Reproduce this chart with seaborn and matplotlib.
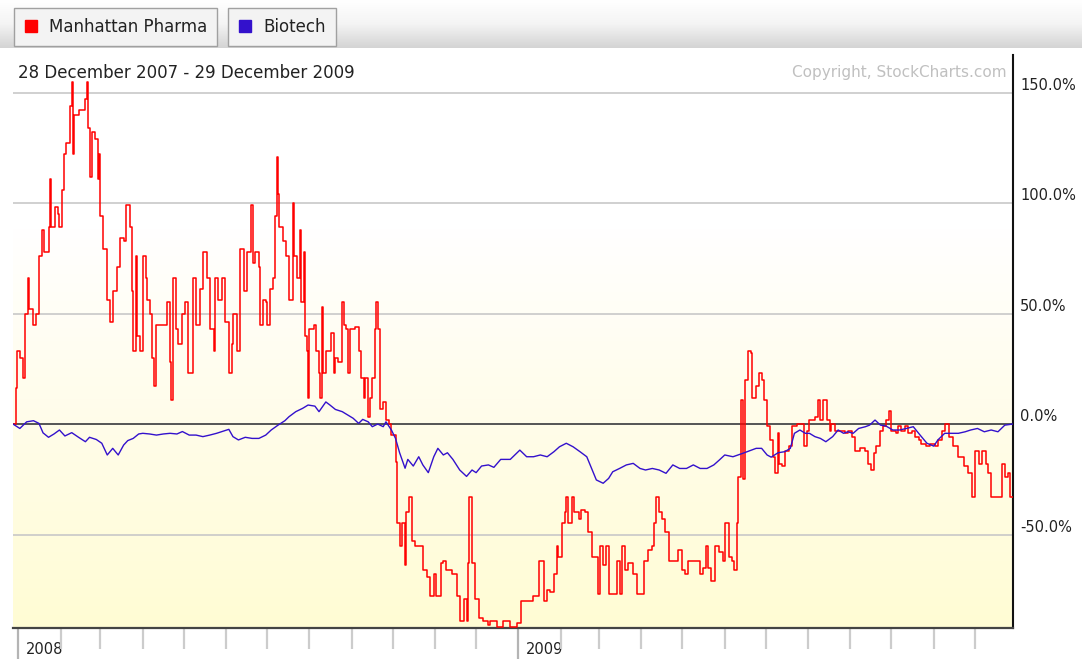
import matplotlib
matplotlib.use("Agg")
import matplotlib.pyplot as plt
import matplotlib.dates as mdates
import matplotlib.transforms as mtransforms
from matplotlib.colors import LinearSegmentedColormap
from matplotlib.lines import Line2D
import numpy as np
import pandas as pd
import seaborn as sns

# % change since 28 Dec 2007
red_points = [
    ('2007-12-28', 0), ('2007-12-30', 16.5), ('2007-12-31', 33),
    ('2008-01-02', 30), ('2008-01-04', 21), ('2008-01-06', 50), ('2008-01-08', 66), ('2008-01-09', 52),
    ('2008-01-12', 45), ('2008-01-14', 50), ('2008-01-16', 76), ('2008-01-18', 88), ('2008-01-20', 78),
    ('2008-01-23', 89), ('2008-01-24', 111), ('2008-01-25', 89), ('2008-01-28', 98), ('2008-01-30', 95),
    ('2008-01-31', 89),
    ('2008-02-02', 106), ('2008-02-03', 122), ('2008-02-05', 127), ('2008-02-08', 144), ('2008-02-09', 155),
    ('2008-02-10', 122), ('2008-02-11', 140), ('2008-02-14', 142), ('2008-02-16', 142), ('2008-02-19', 147),
    ('2008-02-20', 155), ('2008-02-21', 134), ('2008-02-22', 112), ('2008-02-24', 132), ('2008-02-26', 129),
    ('2008-02-28', 111), ('2008-02-29', 122),
    ('2008-03-01', 94), ('2008-03-03', 79), ('2008-03-06', 56), ('2008-03-08', 46), ('2008-03-10', 60),
    ('2008-03-13', 71), ('2008-03-15', 84), ('2008-03-18', 83), ('2008-03-20', 99), ('2008-03-23', 89),
    ('2008-03-24', 60), ('2008-03-25', 33), ('2008-03-27', 76), ('2008-03-28', 40), ('2008-03-30', 33),
    ('2008-04-01', 76), ('2008-04-03', 66), ('2008-04-04', 56), ('2008-04-06', 50), ('2008-04-08', 30),
    ('2008-04-09', 17), ('2008-04-11', 45), ('2008-04-16', 45), ('2008-04-19', 55), ('2008-04-21', 28),
    ('2008-04-22', 11), ('2008-04-23', 66), ('2008-04-25', 43), ('2008-04-27', 36), ('2008-04-30', 50),
    ('2008-05-02', 55), ('2008-05-04', 23), ('2008-05-07', 23), ('2008-05-08', 66), ('2008-05-10', 45),
    ('2008-05-13', 61), ('2008-05-15', 78), ('2008-05-18', 66), ('2008-05-20', 43), ('2008-05-23', 33),
    ('2008-05-24', 66), ('2008-05-26', 56), ('2008-05-29', 66), ('2008-05-31', 46),
    ('2008-06-03', 23), ('2008-06-05', 36), ('2008-06-06', 50), ('2008-06-09', 33), ('2008-06-11', 79),
    ('2008-06-14', 60), ('2008-06-16', 78), ('2008-06-19', 99), ('2008-06-21', 73), ('2008-06-22', 78),
    ('2008-06-25', 71), ('2008-06-26', 45), ('2008-06-28', 56), ('2008-06-30', 55),
    ('2008-07-01', 45), ('2008-07-03', 61), ('2008-07-05', 66), ('2008-07-07', 94), ('2008-07-08', 121),
    ('2008-07-09', 104), ('2008-07-10', 89), ('2008-07-13', 83), ('2008-07-15', 76), ('2008-07-17', 56),
    ('2008-07-19', 56), ('2008-07-20', 100), ('2008-07-21', 76), ('2008-07-23', 66), ('2008-07-25', 88),
    ('2008-07-26', 55), ('2008-07-28', 78), ('2008-07-29', 40), ('2008-07-30', 33), ('2008-07-31', 12),
    ('2008-08-01', 43), ('2008-08-04', 45), ('2008-08-06', 33), ('2008-08-08', 23), ('2008-08-09', 12),
    ('2008-08-10', 53), ('2008-08-11', 23), ('2008-08-13', 33), ('2008-08-16', 33), ('2008-08-17', 41),
    ('2008-08-19', 23), ('2008-08-20', 30), ('2008-08-22', 28), ('2008-08-25', 55), ('2008-08-26', 45),
    ('2008-08-28', 43), ('2008-08-29', 23), ('2008-08-31', 43),
    ('2008-09-03', 44), ('2008-09-06', 33), ('2008-09-08', 21), ('2008-09-10', 12), ('2008-09-11', 21),
    ('2008-09-13', 3), ('2008-09-14', 12), ('2008-09-16', 21), ('2008-09-18', 43), ('2008-09-19', 55),
    ('2008-09-20', 43), ('2008-09-22', 7), ('2008-09-24', 10), ('2008-09-26', 2), ('2008-09-28', 0),
    ('2008-09-30', -5),
    ('2008-10-03', -17), ('2008-10-04', -45), ('2008-10-06', -55), ('2008-10-08', -45), ('2008-10-10', -64),
    ('2008-10-11', -40), ('2008-10-13', -33), ('2008-10-15', -53), ('2008-10-17', -55), ('2008-10-21', -55),
    ('2008-10-23', -66), ('2008-10-26', -69), ('2008-10-28', -78), ('2008-10-31', -68),
    ('2008-11-02', -78), ('2008-11-05', -63), ('2008-11-07', -62), ('2008-11-09', -66), ('2008-11-13', -68),
    ('2008-11-17', -78), ('2008-11-19', -89), ('2008-11-22', -79), ('2008-11-24', -89), ('2008-11-25', -63),
    ('2008-11-26', -33), ('2008-11-28', -63), ('2008-11-30', -79),
    ('2008-12-03', -88), ('2008-12-06', -89), ('2008-12-10', -91), ('2008-12-11', -89), ('2008-12-16', -92),
    ('2008-12-21', -89), ('2008-12-26', -92), ('2008-12-31', -90),
    ('2009-01-03', -80), ('2009-01-07', -80), ('2009-01-12', -78), ('2009-01-16', -62), ('2009-01-18', -62),
    ('2009-01-20', -80), ('2009-01-22', -75), ('2009-01-24', -76), ('2009-01-27', -68), ('2009-01-29', -55),
    ('2009-01-30', -60),
    ('2009-02-02', -45), ('2009-02-04', -40), ('2009-02-05', -33), ('2009-02-06', -45), ('2009-02-09', -33),
    ('2009-02-11', -40), ('2009-02-14', -43), ('2009-02-16', -39), ('2009-02-19', -40), ('2009-02-21', -49),
    ('2009-02-24', -60), ('2009-02-26', -60), ('2009-02-28', -77),
    ('2009-03-02', -55), ('2009-03-04', -64), ('2009-03-06', -55), ('2009-03-08', -77), ('2009-03-11', -77),
    ('2009-03-14', -62), ('2009-03-16', -77), ('2009-03-18', -55), ('2009-03-20', -66), ('2009-03-22', -63),
    ('2009-03-26', -68), ('2009-03-29', -77),
    ('2009-04-01', -77), ('2009-04-03', -62), ('2009-04-06', -57), ('2009-04-09', -55), ('2009-04-10', -45),
    ('2009-04-12', -33), ('2009-04-14', -40), ('2009-04-16', -43), ('2009-04-18', -49), ('2009-04-21', -62),
    ('2009-04-26', -62), ('2009-04-28', -57),
    ('2009-05-01', -66), ('2009-05-03', -68), ('2009-05-05', -62), ('2009-05-11', -62), ('2009-05-14', -68),
    ('2009-05-16', -65), ('2009-05-18', -55), ('2009-05-20', -65), ('2009-05-22', -71), ('2009-05-25', -55),
    ('2009-05-28', -58), ('2009-05-31', -62),
    ('2009-06-01', -45), ('2009-06-04', -60), ('2009-06-06', -62), ('2009-06-08', -66), ('2009-06-10', -45),
    ('2009-06-11', -24), ('2009-06-13', 11), ('2009-06-14', -25), ('2009-06-16', 20), ('2009-06-18', 33),
    ('2009-06-20', 32), ('2009-06-21', 12), ('2009-06-22', 12), ('2009-06-24', 17), ('2009-06-26', 23),
    ('2009-06-28', 20), ('2009-06-30', 11),
    ('2009-07-02', -1), ('2009-07-04', -7), ('2009-07-06', -15), ('2009-07-08', -22), ('2009-07-10', -4),
    ('2009-07-11', -18), ('2009-07-13', -19), ('2009-07-15', -12), ('2009-07-18', -10), ('2009-07-20', -1),
    ('2009-07-24', 0), ('2009-07-26', 0), ('2009-07-29', -10), ('2009-07-31', -3),
    ('2009-08-02', 2), ('2009-08-06', 3), ('2009-08-08', 11), ('2009-08-10', 2), ('2009-08-12', 11),
    ('2009-08-13', 11), ('2009-08-15', 2), ('2009-08-17', -3), ('2009-08-18', 0), ('2009-08-21', -3),
    ('2009-08-24', -3), ('2009-08-28', -4), ('2009-08-30', -3),
    ('2009-09-02', -6), ('2009-09-04', -12), ('2009-09-08', -11), ('2009-09-12', -12), ('2009-09-14', -18),
    ('2009-09-16', -21), ('2009-09-18', -13), ('2009-09-20', -10), ('2009-09-23', -3), ('2009-09-25', -1),
    ('2009-09-27', 2), ('2009-09-29', 6),
    ('2009-10-01', -3), ('2009-10-04', -4), ('2009-10-06', -1), ('2009-10-08', -3), ('2009-10-11', -1),
    ('2009-10-13', -4), ('2009-10-16', -3), ('2009-10-18', -6), ('2009-10-21', -7), ('2009-10-23', -9),
    ('2009-10-26', -10), ('2009-10-29', -9),
    ('2009-11-02', -10), ('2009-11-04', -7), ('2009-11-07', -3), ('2009-11-09', 0), ('2009-11-12', -6),
    ('2009-11-15', -10), ('2009-11-19', -15), ('2009-11-23', -19), ('2009-11-26', -22), ('2009-11-29', -33),
    ('2009-12-01', -12), ('2009-12-04', -18), ('2009-12-06', -12), ('2009-12-09', -18), ('2009-12-11', -22),
    ('2009-12-13', -33), ('2009-12-19', -33), ('2009-12-21', -18), ('2009-12-23', -24), ('2009-12-25', -22),
    ('2009-12-27', -33), ('2009-12-29', -33),
]

blue_points = [
    ('2007-12-28', 0),
    ('2008-01-02', -2), ('2008-01-07', 1), ('2008-01-12', 1.5), ('2008-01-16', 0.3), ('2008-01-19', -4),
    ('2008-01-23', -6), ('2008-01-27', -4.5), ('2008-01-31', -2.7), ('2008-02-04', -5.4), ('2008-02-09', -3.9),
    ('2008-02-14', -6), ('2008-02-19', -8), ('2008-02-22', -6), ('2008-02-27', -7), ('2008-03-02', -8.7),
    ('2008-03-06', -14), ('2008-03-10', -11), ('2008-03-14', -14), ('2008-03-18', -9.5), ('2008-03-21', -7.5),
    ('2008-03-25', -6.5), ('2008-03-29', -4.5), ('2008-04-01', -4.2), ('2008-04-06', -4.5), ('2008-04-11', -5),
    ('2008-04-16', -4.5), ('2008-04-21', -4.2), ('2008-04-26', -4.5), ('2008-04-30', -3.4), ('2008-05-05', -5),
    ('2008-05-10', -5), ('2008-05-15', -5.7), ('2008-05-20', -5), ('2008-05-25', -4.2), ('2008-06-03', -2.4),
    ('2008-06-06', -5.7), ('2008-06-10', -7.2), ('2008-06-15', -6), ('2008-06-20', -6.5), ('2008-06-25', -6.5),
    ('2008-06-30', -5), ('2008-07-04', -2.7), ('2008-07-09', -0.5), ('2008-07-14', 1.5), ('2008-07-17', 3.3),
    ('2008-07-22', 5.6), ('2008-07-27', 7.1), ('2008-07-31', 8.6), ('2008-08-05', 8.1), ('2008-08-08', 5.6),
    ('2008-08-13', 10), ('2008-08-16', 8.6), ('2008-08-20', 6.6), ('2008-08-25', 5.6), ('2008-08-29', 4.1),
    ('2008-09-02', 2.6), ('2008-09-06', 0.3), ('2008-09-09', 2.1), ('2008-09-13', 1), ('2008-09-16', -1.2),
    ('2008-09-20', 0), ('2008-09-24', -1.2), ('2008-09-26', 1), ('2008-09-30', -2.7), ('2008-10-03', -6.5),
    ('2008-10-06', -13), ('2008-10-10', -20), ('2008-10-12', -16), ('2008-10-16', -19), ('2008-10-20', -14.8),
    ('2008-10-23', -18.5), ('2008-10-27', -22), ('2008-10-31', -14.8), ('2008-11-03', -11), ('2008-11-07', -14),
    ('2008-11-10', -13), ('2008-11-14', -16), ('2008-11-19', -20.8), ('2008-11-24', -23.7), ('2008-11-28', -20.8),
    ('2008-12-01', -22), ('2008-12-05', -19), ('2008-12-10', -18.5), ('2008-12-14', -19.6), ('2008-12-19', -16),
    ('2008-12-26', -16),
    ('2009-01-02', -11.8), ('2009-01-07', -14.8), ('2009-01-12', -14.8), ('2009-01-17', -14), ('2009-01-22', -14.8),
    ('2009-01-27', -12.5), ('2009-01-31', -10.3), ('2009-02-05', -8.7), ('2009-02-10', -10.3), ('2009-02-15', -12.5),
    ('2009-02-20', -14.8), ('2009-02-24', -20.8), ('2009-02-27', -25.3), ('2009-03-04', -26.8), ('2009-03-08', -24.6),
    ('2009-03-11', -21.6), ('2009-03-16', -20.1), ('2009-03-21', -18.5), ('2009-03-26', -17.8), ('2009-03-31', -20.1),
    ('2009-04-04', -20.8), ('2009-04-09', -20.1), ('2009-04-14', -20.8), ('2009-04-19', -22.3), ('2009-04-24', -18.5),
    ('2009-04-29', -20.1), ('2009-05-04', -20.1), ('2009-05-09', -18.5), ('2009-05-14', -20.1), ('2009-05-19', -20.1),
    ('2009-05-24', -18.5), ('2009-05-28', -16.3), ('2009-06-01', -14), ('2009-06-07', -14.8), ('2009-06-14', -13.3),
    ('2009-06-24', -11), ('2009-06-28', -11), ('2009-07-02', -14), ('2009-07-05', -15), ('2009-07-10', -13),
    ('2009-07-15', -12.5), ('2009-07-19', -11), ('2009-07-22', -4.2), ('2009-07-26', -2.7), ('2009-07-30', -4.2),
    ('2009-08-02', -4.2), ('2009-08-06', -5.7), ('2009-08-10', -6.5), ('2009-08-14', -8), ('2009-08-19', -5.7),
    ('2009-08-23', -2.7), ('2009-08-27', -4.2), ('2009-08-30', -3.5), ('2009-09-03', -4.2), ('2009-09-07', -2),
    ('2009-09-12', -1.2), ('2009-09-15', -0.5), ('2009-09-19', 1.8), ('2009-09-23', -0.5), ('2009-09-27', -0.9),
    ('2009-10-02', -2.7), ('2009-10-07', -2.7), ('2009-10-12', -2), ('2009-10-17', -1.2), ('2009-10-22', -5),
    ('2009-10-27', -8.7), ('2009-11-01', -10), ('2009-11-04', -7.2), ('2009-11-09', -4.2), ('2009-11-14', -4.2),
    ('2009-11-19', -4.2), ('2009-11-24', -3.5), ('2009-11-28', -2.7), ('2009-12-03', -2), ('2009-12-08', -3.5),
    ('2009-12-13', -2.7), ('2009-12-18', -3.5), ('2009-12-23', -0.5), ('2009-12-29', 0),
]

series_names = ['Manhattan Pharma', 'Biotech']
series_colors = ['#ff0000', '#3311cc']
y_ticks = [-50, 0, 50, 100, 150]
year_ticks = ['2008-01-01', '2009-01-01']
year_labels = ['2008', '2009']
date_range_text = '28 December 2007 - 29 December 2009'

sns.set_style('white')
plt.rcParams['font.family'] = ['DejaVu Sans']

W, H = 1082, 659
fig = plt.figure(figsize=(W / 100, H / 100), dpi=100)

# header strip behind the legend buttons
head = fig.add_axes([0, 1 - 48 / H, 1, 48 / H])
head.imshow(np.linspace(0, 1, 64)[:, None], aspect='auto',
            cmap=LinearSegmentedColormap.from_list('hd', ['#ffffff', '#f4f4f4', '#d4d4d4']))
head.axis('off')

ax = fig.add_axes([13 / W, 31 / H, 1000 / W, 573 / H])
bg = LinearSegmentedColormap.from_list(
    'bg', [(0, '#ffffff'), (0.3, '#ffffff'), (0.6, '#fffdec'), (1, '#fffcd4')])
ax.imshow(np.linspace(0, 1, 128)[:, None], aspect='auto', extent=[0, 1, 0, 1],
          transform=ax.transAxes, zorder=0, cmap=bg)

red = pd.DataFrame(red_points, columns=['date', 'pct'])
red['date'] = pd.to_datetime(red['date'])
blue = pd.DataFrame(blue_points, columns=['date', 'pct'])
blue['date'] = pd.to_datetime(blue['date'])

sns.lineplot(data=red, x='date', y='pct', ax=ax, color=series_colors[0], lw=1.1,
             estimator=None, drawstyle='steps-post', zorder=3)
sns.lineplot(data=blue, x='date', y='pct', ax=ax, color=series_colors[1], lw=1.0,
             estimator=None, zorder=4)

ax.set_xlim(pd.Timestamp('2007-12-28'), pd.Timestamp('2009-12-29'))
ax.set_ylim(-92.3, 167)
ax.set_xlabel('')
ax.set_ylabel('')

ax.grid(axis='y', color='#c8c8c8', lw=1.2, zorder=1)
ax.grid(axis='x', visible=False)
ax.axhline(0, color='#555555', lw=1.4, zorder=2)

for side in ['left', 'top']:
    ax.spines[side].set_visible(False)
ax.spines['right'].set_color('#111111')
ax.spines['right'].set_linewidth(1.5)
ax.spines['bottom'].set_color('#444444')
ax.spines['bottom'].set_linewidth(1.6)

# right-hand percent scale, labels sitting on top of their grid lines
ax.yaxis.tick_right()
ax.set_yticks(y_ticks)
ax.set_yticklabels(['{:.1f}%'.format(v) for v in y_ticks])
ax.tick_params(axis='y', length=0, pad=5, labelsize=10.5, labelcolor='#222222')
plt.setp(ax.get_yticklabels(), va='bottom')

# month ticks, year labels
ax.set_xticks(pd.to_datetime(year_ticks))
ax.set_xticklabels(year_labels)
ax.xaxis.set_minor_locator(mdates.MonthLocator())
ax.tick_params(axis='x', which='both', bottom=True, direction='out')
ax.tick_params(axis='x', which='minor', length=15, width=1.6, color='#cccccc')
ax.tick_params(axis='x', which='major', length=23, width=1.6, color='#b4b4b4',
               pad=-13, labelsize=10.5, labelcolor='#222222')
shift = mtransforms.ScaledTranslation(5 / 72, 0, fig.dpi_scale_trans)
for lbl in ax.get_xticklabels():
    lbl.set_ha('left')
    lbl.set_transform(lbl.get_transform() + shift)

fig.text(18 / W, 1 - 73 / H, date_range_text, va='center', fontsize=12, color='#222222')
fig.text(1007 / W, 1 - 73 / H, 'Copyright, StockCharts.com', ha='right', va='center',
         fontsize=11, color='#c0c0c0')

# the two legend "buttons"
anchors = [14 / W, 228 / W]
for name, colour, x0 in zip(series_names, series_colors, anchors):
    handle = Line2D([], [], marker='s', ls='none', color=colour, markersize=9)
    fig.legend([handle], [name], loc='upper left', bbox_to_anchor=(x0, 1 - 8 / H),
               borderaxespad=0, frameon=True, fancybox=False, edgecolor='#a0a0a0',
               facecolor='#f3f3f3', framealpha=1, fontsize=12, handlelength=0.8,
               handletextpad=0.7, borderpad=0.6, labelcolor='#222222')

fig.savefig('out.png', dpi=100)
